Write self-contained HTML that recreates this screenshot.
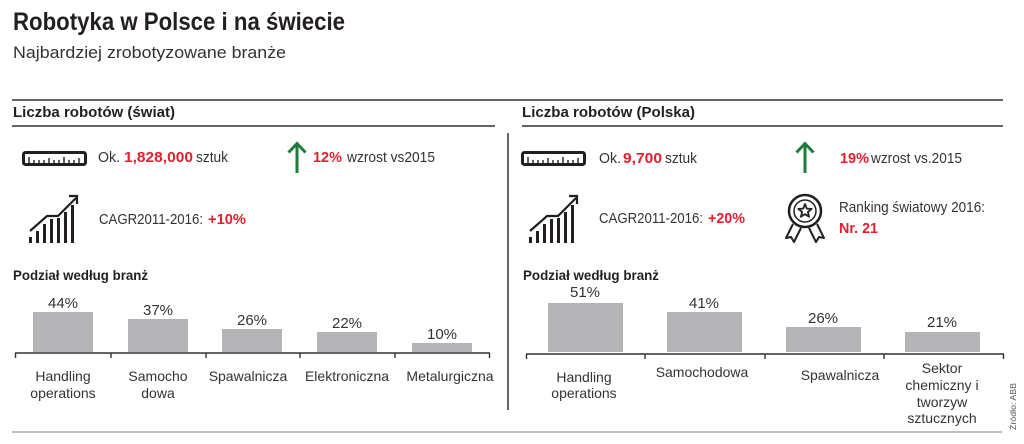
<!DOCTYPE html>
<html>
<head>
<meta charset="utf-8">
<style>
html,body{margin:0;padding:0;background:#fff;}
svg{display:block;}
text{font-family:"Liberation Sans",sans-serif;}
</style>
</head>
<body>
<svg width="1024" height="444" viewBox="0 0 1024 444" xmlns="http://www.w3.org/2000/svg">
<rect width="1024" height="444" fill="#fff"/>

<!-- Title -->
<text x="13" y="30" font-size="25" font-weight="bold" fill="#231f20" textLength="332" lengthAdjust="spacingAndGlyphs">Robotyka w Polsce i na świecie</text>
<text x="13" y="58" font-size="17" fill="#333" textLength="273" lengthAdjust="spacingAndGlyphs">Najbardziej zrobotyzowane branże</text>

<!-- Lines -->
<line x1="12" y1="100" x2="1003" y2="100" stroke="#333" stroke-width="1.4"/>
<line x1="12" y1="126" x2="495" y2="126" stroke="#333" stroke-width="1.4"/>
<line x1="522" y1="126" x2="1003" y2="126" stroke="#333" stroke-width="1.4"/>
<line x1="508" y1="133" x2="508" y2="410" stroke="#333" stroke-width="1.5"/>
<line x1="12" y1="432" x2="1002" y2="432" stroke="#aaa" stroke-width="1.5"/>

<!-- Section headers -->
<text x="13" y="117" font-size="15" font-weight="bold" fill="#231f20" textLength="162" lengthAdjust="spacingAndGlyphs">Liczba robotów (świat)</text>
<text x="522" y="117" font-size="15" font-weight="bold" fill="#231f20" textLength="173" lengthAdjust="spacingAndGlyphs">Liczba robotów  (Polska)</text>

<!-- Icons definitions -->
<defs>
  <g id="ruler">
    <rect x="23.5" y="152.5" width="62" height="12" rx="2" fill="none" stroke="#231f20" stroke-width="3"/>
    <g stroke="#231f20" stroke-width="1.4">
      <line x1="29" y1="163" x2="29" y2="157"/>
      <line x1="34" y1="163" x2="34" y2="160"/>
      <line x1="39" y1="163" x2="39" y2="160"/>
      <line x1="44" y1="163" x2="44" y2="160"/>
      <line x1="49" y1="163" x2="49" y2="158"/>
      <line x1="54" y1="163" x2="54" y2="160"/>
      <line x1="59" y1="163" x2="59" y2="160"/>
      <line x1="64" y1="163" x2="64" y2="157"/>
      <line x1="69" y1="163" x2="69" y2="160"/>
      <line x1="74" y1="163" x2="74" y2="160"/>
      <line x1="79" y1="163" x2="79" y2="158"/>
    </g>
  </g>
  <g id="chart">
    <g fill="#231f20">
      <rect x="29" y="237" width="3" height="6"/>
      <rect x="36" y="231" width="3" height="12"/>
      <rect x="43" y="224" width="3" height="19"/>
      <rect x="50" y="219" width="3" height="24"/>
      <rect x="57" y="218" width="3" height="25"/>
      <rect x="64" y="212" width="3" height="31"/>
      <rect x="71" y="205" width="3" height="38"/>
    </g>
    <polyline points="30,231 47,216 58,216 76,198" fill="none" stroke="#231f20" stroke-width="2.2"/>
    <polyline points="69,196 77,196 77,204" fill="none" stroke="#231f20" stroke-width="2.2"/>
  </g>
  <g id="arrow">
    <line x1="297" y1="145" x2="297" y2="173" stroke="#1e7b3c" stroke-width="3"/>
    <polyline points="288.5,152.5 297,143.5 305.5,152.5" fill="none" stroke="#1e7b3c" stroke-width="3"/>
  </g>
</defs>

<use href="#ruler"/>
<use href="#ruler" transform="translate(499,0)"/>
<use href="#chart"/>
<use href="#chart" transform="translate(500,0)"/>
<use href="#arrow"/>
<use href="#arrow" transform="translate(508,0)"/>

<!-- Medal -->
<g fill="none" stroke="#231f20">
  <path d="M793,224 L786,238 L791,237 L794,242 L801,228" stroke-width="2" stroke-linejoin="round" fill="#fff"/>
  <path d="M817,224 L824,238 L819,237 L816,242 L809,228" stroke-width="2" stroke-linejoin="round" fill="#fff"/>
  <circle cx="805" cy="211" r="16" stroke-width="2.5" fill="#fff"/>
  <circle cx="805" cy="211" r="11" stroke-width="1.5"/>
  <polygon points="805,204 806.8,208.6 811.7,208.9 807.9,212 809.1,216.8 805,214.1 800.9,216.8 802.1,212 798.3,208.9 803.2,208.6" stroke-width="1.8" stroke-linejoin="round"/>
</g>

<!-- Left stats -->
<g font-size="15" fill="#333">
  <text x="98" y="162" textLength="22" lengthAdjust="spacingAndGlyphs">Ok.</text>
  <text x="124" y="162" font-weight="bold" fill="#e3202f" textLength="69" lengthAdjust="spacingAndGlyphs">1,828,000</text>
  <text x="196" y="162" textLength="32" lengthAdjust="spacingAndGlyphs">sztuk</text>
  <text x="313" y="162" font-weight="bold" fill="#e3202f" textLength="29" lengthAdjust="spacingAndGlyphs">12%</text>
  <text x="347" y="162" textLength="88" lengthAdjust="spacingAndGlyphs">wzrost vs2015</text>
  <text x="99" y="224" textLength="104" lengthAdjust="spacingAndGlyphs">CAGR2011-2016:</text>
  <text x="208" y="224" font-weight="bold" fill="#e3202f" textLength="38" lengthAdjust="spacingAndGlyphs">+10%</text>
</g>

<!-- Right stats -->
<g font-size="15" fill="#333">
  <text x="599" y="163" textLength="22" lengthAdjust="spacingAndGlyphs">Ok.</text>
  <text x="623" y="163" font-weight="bold" fill="#e3202f" textLength="39" lengthAdjust="spacingAndGlyphs">9,700</text>
  <text x="665" y="163" textLength="32" lengthAdjust="spacingAndGlyphs">sztuk</text>
  <text x="840" y="163" font-weight="bold" fill="#e3202f" textLength="29" lengthAdjust="spacingAndGlyphs">19%</text>
  <text x="871" y="163" textLength="91" lengthAdjust="spacingAndGlyphs">wzrost vs.2015</text>
  <text x="599" y="223" textLength="104" lengthAdjust="spacingAndGlyphs">CAGR2011-2016:</text>
  <text x="708" y="223" font-weight="bold" fill="#e3202f" textLength="37" lengthAdjust="spacingAndGlyphs">+20%</text>
  <text x="839" y="212" textLength="146" lengthAdjust="spacingAndGlyphs">Ranking światowy 2016:</text>
  <text x="839" y="233" font-weight="bold" fill="#e3202f" textLength="39" lengthAdjust="spacingAndGlyphs">Nr. 21</text>
</g>

<!-- Podział headers -->
<text x="13" y="280" font-size="14" font-weight="bold" fill="#231f20" textLength="135" lengthAdjust="spacingAndGlyphs">Podział według branż</text>
<text x="523" y="280" font-size="14" font-weight="bold" fill="#231f20" textLength="136" lengthAdjust="spacingAndGlyphs">Podział według branż</text>

<!-- Left chart -->
<g fill="#b4b4b6">
  <rect x="33" y="312" width="60" height="40"/>
  <rect x="128" y="319" width="60" height="33"/>
  <rect x="222" y="329" width="60" height="23"/>
  <rect x="317" y="332" width="60" height="20"/>
  <rect x="412" y="343" width="60" height="9"/>
</g>
<g stroke="#333" stroke-width="1.4" fill="none">
  <line x1="15" y1="353" x2="490" y2="353"/>
  <line x1="15.5" y1="353" x2="15.5" y2="358"/>
  <line x1="111" y1="353" x2="111" y2="358"/>
  <line x1="206" y1="353" x2="206" y2="358"/>
  <line x1="300" y1="353" x2="300" y2="358"/>
  <line x1="395" y1="353" x2="395" y2="358"/>
  <line x1="489.5" y1="353" x2="489.5" y2="358"/>
</g>
<g font-size="15" fill="#333" text-anchor="middle">
  <text x="63" y="308">44%</text>
  <text x="158" y="315">37%</text>
  <text x="252" y="325">26%</text>
  <text x="347" y="328">22%</text>
  <text x="442" y="339">10%</text>
</g>
<g font-size="14" fill="#333" text-anchor="middle">
  <text x="63" y="381">Handling</text>
  <text x="63" y="398">operations</text>
  <text x="158" y="381">Samocho</text>
  <text x="158" y="398">dowa</text>
  <text x="248" y="381">Spawalnicza</text>
  <text x="347" y="381">Elektroniczna</text>
  <text x="450" y="381">Metalurgiczna</text>
</g>

<!-- Right chart -->
<g fill="#b4b4b6">
  <rect x="548" y="303" width="75" height="49"/>
  <rect x="667" y="312" width="75" height="40"/>
  <rect x="786" y="327" width="75" height="25"/>
  <rect x="905" y="332" width="75" height="20"/>
</g>
<g stroke="#333" stroke-width="1.4" fill="none">
  <line x1="526" y1="354" x2="1004" y2="354"/>
  <line x1="526.5" y1="354" x2="526.5" y2="359"/>
  <line x1="645" y1="354" x2="645" y2="359"/>
  <line x1="765" y1="354" x2="765" y2="359"/>
  <line x1="884" y1="354" x2="884" y2="359"/>
  <line x1="1003.5" y1="354" x2="1003.5" y2="359"/>
</g>
<g font-size="15" fill="#333" text-anchor="middle">
  <text x="585" y="297">51%</text>
  <text x="704" y="308">41%</text>
  <text x="823" y="323">26%</text>
  <text x="942" y="327">21%</text>
</g>
<g font-size="14" fill="#333" text-anchor="middle">
  <text x="584" y="382">Handling</text>
  <text x="584" y="398">operations</text>
  <text x="702" y="377">Samochodowa</text>
  <text x="840" y="380">Spawalnicza</text>
  <text x="942" y="373">Sektor</text>
  <text x="942" y="390">chemiczny i</text>
  <text x="942" y="407">tworzyw</text>
  <text x="942" y="423">sztucznych</text>
</g>

<!-- Source -->
<text x="0" y="0" font-size="8" fill="#555" transform="translate(1016,430) rotate(-90)" textLength="47" lengthAdjust="spacingAndGlyphs">Źródło: ABB</text>
</svg>
</body>
</html>
